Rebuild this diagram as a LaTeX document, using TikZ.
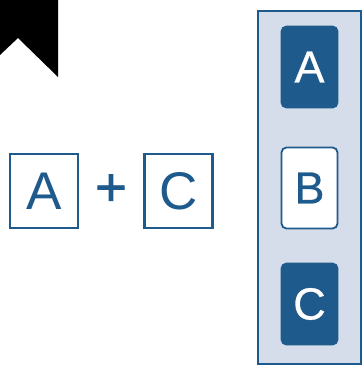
\documentclass[tikz,border=0pt]{standalone}
\usepackage{fontspec}
\setmainfont{Liberation Sans}
\newfontfamily\plusfont[FakeBold=1.5]{Liberation Sans}
\newfontfamily\boxfont[FakeBold=0.6]{Liberation Sans}
\definecolor{dblue}{HTML}{1E5A8C}
\definecolor{lpanel}{HTML}{D5DCEA}
\begin{document}
\begin{tikzpicture}[x=1pt,y=-1pt,
  outbox/.style={draw=dblue,line width=2.2pt,fill=white,minimum width=68pt,minimum height=74pt,inner sep=0pt,text=dblue,font=\fontsize{53}{53}\selectfont},
  filledbox/.style={draw=dblue,line width=1.8pt,fill=dblue,rounded corners=5pt,minimum width=56pt,minimum height=81pt,inner sep=0pt,text=white,font=\boxfont\fontsize{45}{45}\selectfont},
  whitebox/.style={filledbox,fill=white,text=dblue}]
\useasboundingbox (0,0) rectangle (363,366);
\fill[black] (0,0) -- (58,0) -- (58,77) -- (18,38) -- (0,55) -- cycle;
\node[outbox] (la) at (44,191) {A};
\node[text=dblue,font=\plusfont\fontsize{54}{54}\selectfont,inner sep=0pt] (plus) at (111,190) {+};
\node[outbox] (lc) at (178.5,191) {C};
\node[draw=dblue,line width=2.8pt,fill=lpanel,minimum width=103pt,minimum height=353pt,inner sep=0pt] (panel) at (309.5,187.5) {};
\node[filledbox] (ra) at (309.5,67) {A};
\node[whitebox] (rb) at (309.5,188) {B};
\node[filledbox] (rc) at (309.5,304) {C};
\end{tikzpicture}
\end{document}
